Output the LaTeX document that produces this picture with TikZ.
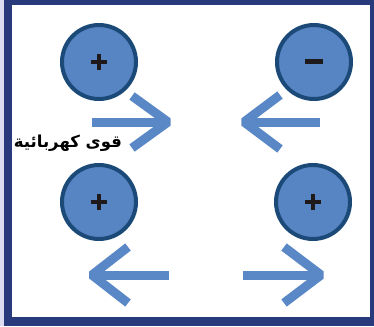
\documentclass[tikz,border=0pt]{standalone}
\usepackage{fontspec}
\newfontfamily\arabicfont[Script=Arabic,BoldFont={DejaVu Sans Bold}]{DejaVu Sans}
\TeXXeTstate=1
\definecolor{lav}{HTML}{DCDCF0}
\definecolor{navy}{HTML}{283A7C}
\definecolor{ballfill}{HTML}{5784C3}
\definecolor{ballrim}{HTML}{1C4A78}
\definecolor{arrowc}{HTML}{5A88C6}
\definecolor{signc}{HTML}{1E1A1C}
\begin{document}
\begin{tikzpicture}[x=1pt,y=-1pt,
  ball/.style={circle,draw=ballrim,fill=ballfill,line width=4pt,minimum size=74pt,inner sep=0pt},
  sign/.style={draw=signc,line width=4.5pt},
  force/.style={draw=arrowc,line width=9pt,line join=bevel}]
\useasboundingbox (0,0) rectangle (374,326);
\fill[lav] (0,0) rectangle (374,326);
\fill[navy] (4,0) rectangle (374,326);
\fill[white] (12,5) rectangle (370,317);
% balls
\node[ball] (c1) at (99,62) {};
\node[ball] (c2) at (314,62) {};
\node[ball] (c3) at (99,202) {};
\node[ball] (c4) at (313,202) {};
% signs
\foreach \c in {c1,c3,c4}{
  \draw[sign] ([xshift=-8pt]\c.center) -- ([xshift=8pt]\c.center);
  \draw[sign] ([yshift=-8pt]\c.center) -- ([yshift=8pt]\c.center);
}
\draw[sign,line width=5pt] ([xshift=-9pt]c2.center) -- ([xshift=9pt]c2.center);
% arrows
\coordinate (a1s) at (92,122); \coordinate (a1t) at (168,122);
\coordinate (a2s) at (320,122); \coordinate (a2t) at (244,122);
\coordinate (a3s) at (169,275); \coordinate (a3t) at (92,275);
\coordinate (a4s) at (243,275); \coordinate (a4t) at (321,275);
\draw[force] (a1s) -- (a1t);
\draw[force] ([shift={(-36,-26)}]a1t) -- (a1t) -- ([shift={(-36,26)}]a1t);
\draw[force] (a2s) -- (a2t);
\draw[force] ([shift={(36,-27)}]a2t) -- (a2t) -- ([shift={(36,27)}]a2t);
\draw[force] (a3s) -- (a3t);
\draw[force] ([shift={(36,-28)}]a3t) -- (a3t) -- ([shift={(36,28)}]a3t);
\draw[force] (a4s) -- (a4t);
\draw[force] ([shift={(-37,-28)}]a4t) -- (a4t) -- ([shift={(-37,28)}]a4t);
% label
\node[font=\arabicfont\bfseries\fontsize{16.5}{19}\selectfont,inner sep=0pt] (lbl) at (68,143) {\beginR قوى كهربائية\endR};
\end{tikzpicture}
\end{document}
